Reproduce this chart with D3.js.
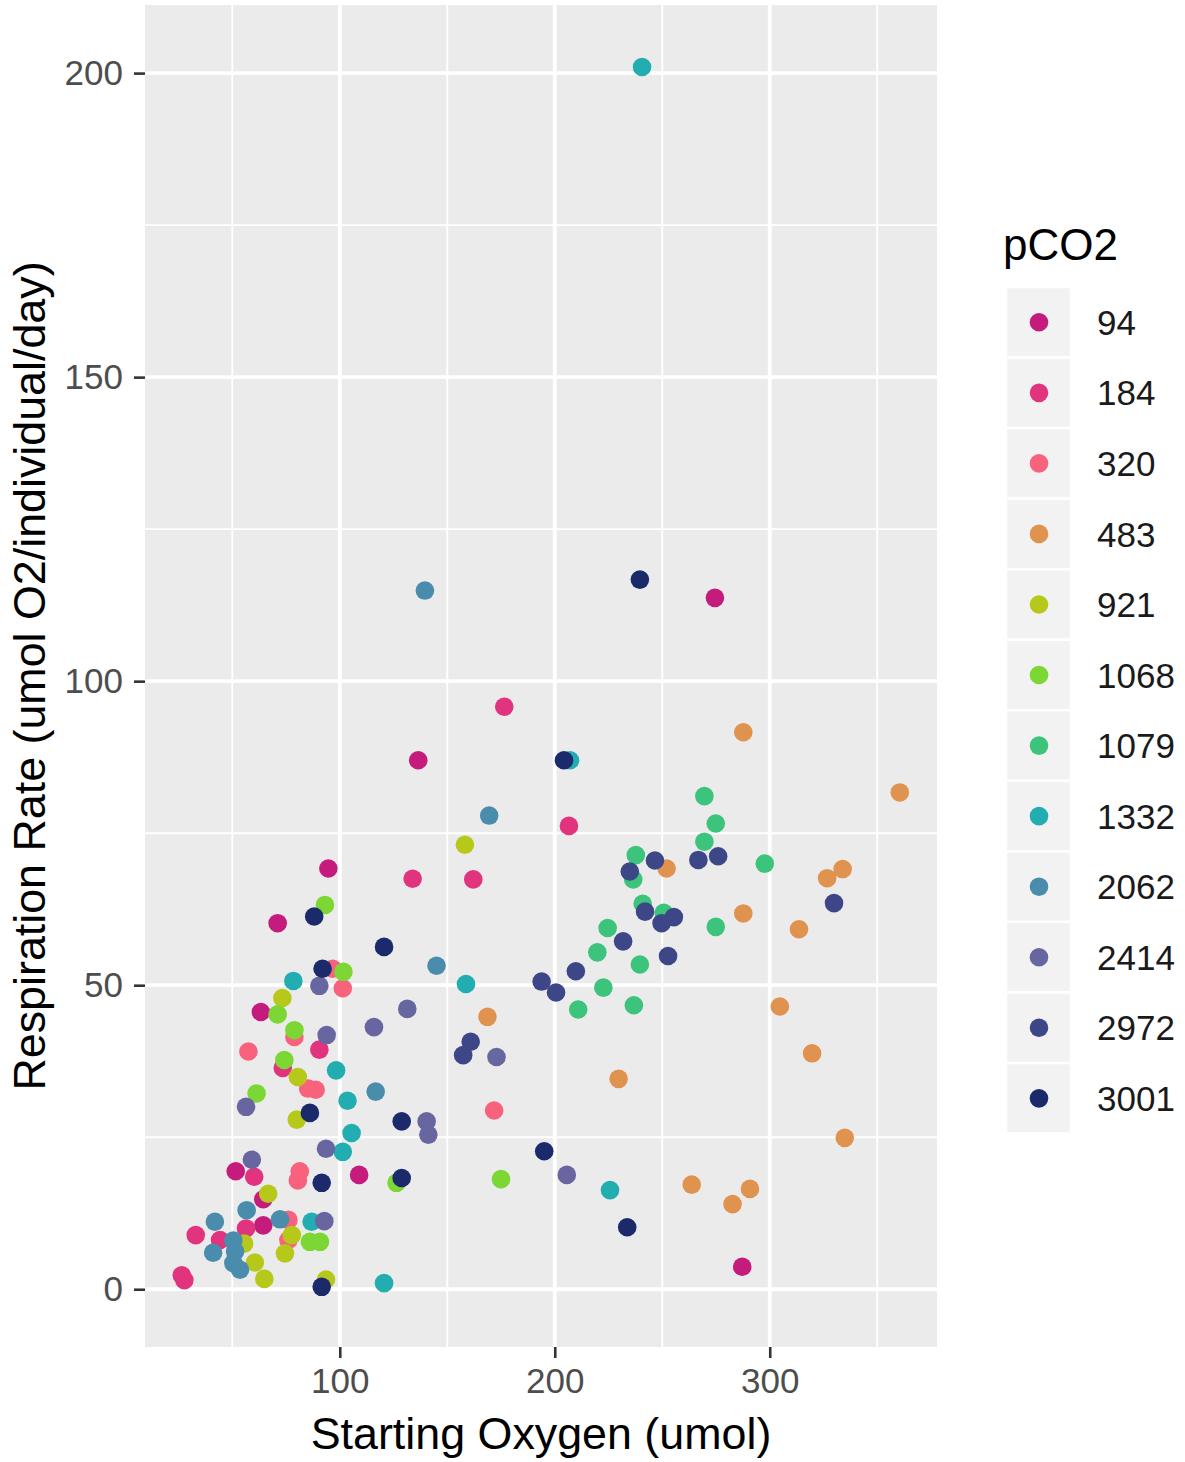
<!DOCTYPE html>
<html>
<head>
<meta charset="utf-8">
<script src="https://cdn.jsdelivr.net/npm/d3@7"></script>
<style>
  html, body { margin: 0; padding: 0; background: #ffffff; }
  svg text { font-family: "Liberation Sans", Arial, Helvetica, sans-serif; }
</style>
</head>
<body>
<svg id="chart" width="1185" height="1462"></svg>
<script>
// pCO2 treatment levels and their colours
const levels = ["94", "184", "320", "483", "921", "1068", "1079", "1332", "2062", "2414", "2972", "3001"];
const palette = ["#c51b7d", "#e2337f", "#f8627d", "#e0934e", "#b6c91b", "#7cd634", "#3cc37c",
                 "#22adb0", "#4a8cab", "#6866a0", "#3d4788", "#1a2a6b"];

// [starting oxygen (umol), respiration rate (umol O2/individual/day)] per treatment
const pts94 = [[51.6, 19.4], [109.0, 18.8], [94.7, 69.2], [71.1, 60.2], [136.5, 87.0], [63.3, 45.6],
               [274.5, 113.7], [287.2, 3.7], [64.4, 14.8], [64.4, 10.5]];
const pts184 = [[60.2, 18.5], [56.4, 10.0], [33.0, 8.9], [44.3, 8.1], [26.5, 2.3], [27.7, 1.5],
                [73.5, 36.4], [90.5, 39.4], [176.5, 95.8], [206.6, 76.2], [133.9, 67.5], [162.1, 67.4]];
const pts320 = [[81.4, 19.4], [80.5, 17.9], [76.1, 11.4], [76.1, 8.1], [96.7, 52.7], [101.4, 49.5],
                [78.9, 41.5], [57.5, 39.1], [85.3, 33.0], [88.8, 32.8], [171.8, 29.4]];
const pts483 = [[168.7, 44.8], [229.7, 34.6], [252.0, 69.2], [287.7, 61.8], [304.7, 46.5], [319.7, 38.8],
                [334.9, 24.9], [263.7, 17.2], [290.8, 16.5], [282.7, 14.0], [287.7, 91.6], [360.5, 81.7],
                [333.9, 69.1], [326.7, 67.6], [313.6, 59.2]];
const pts921 = [[66.7, 15.7], [55.5, 7.5], [77.7, 8.9], [74.5, 5.9], [60.5, 4.4], [64.9, 1.7],
                [93.6, 1.6], [73.3, 47.9], [80.5, 34.9], [80.0, 27.9], [158.2, 73.1]];
const pts1068 = [[126.4, 17.5], [86.1, 7.8], [90.8, 7.8], [101.7, 52.2], [71.1, 45.2], [78.9, 42.6],
                 [74.2, 37.7], [61.3, 32.2], [93.1, 63.2], [175.0, 18.1]];
const pts1079 = [[269.6, 81.1], [274.9, 76.6], [269.6, 73.6], [237.7, 71.4], [236.5, 67.4], [297.7, 70.0],
                 [240.9, 63.4], [250.7, 61.9], [274.9, 59.6], [224.6, 59.4], [219.8, 55.4], [239.6, 53.4],
                 [222.6, 49.6], [210.9, 46.0], [236.8, 46.7]];
const pts1332 = [[105.5, 25.7], [101.4, 22.6], [86.9, 11.1], [120.6, 1.0], [78.4, 50.7], [98.3, 36.0],
                 [103.6, 31.0], [158.7, 50.2], [207.1, 87.0], [225.7, 16.3], [240.6, 201.0]];
const pts2062 = [[56.7, 13.0], [41.9, 11.1], [72.2, 11.5], [50.5, 8.0], [41.1, 6.0], [51.3, 6.2],
                 [50.5, 4.3], [53.6, 3.2], [116.7, 32.5], [145.0, 53.2], [169.5, 77.9], [139.6, 114.9]];
const pts2414 = [[93.6, 23.1], [59.1, 21.3], [92.8, 11.2], [90.5, 49.9], [93.9, 41.8], [115.9, 43.1],
                 [131.4, 46.1], [56.4, 30.0], [172.9, 38.2], [140.4, 27.6], [141.2, 25.4], [205.6, 18.8]];
const pts2972 = [[246.6, 70.5], [234.9, 68.7], [266.8, 70.6], [276.0, 71.2], [242.0, 62.1], [249.7, 60.2],
                 [255.4, 61.2], [231.8, 57.2], [252.7, 54.8], [209.8, 52.3], [193.9, 50.6], [200.6, 48.8],
                 [160.9, 40.7], [157.4, 38.5], [329.9, 63.5]];
const pts3001 = [[92.0, 52.7], [120.6, 56.3], [88.1, 61.3], [86.1, 29.0], [91.6, 17.5], [128.8, 18.3],
                 [128.8, 27.6], [91.6, 0.4], [195.1, 22.7], [233.7, 10.2], [204.3, 87.0], [239.6, 116.7]];

const xTicks = [100, 200, 300];
const yTicks = [0, 50, 100, 150, 200];
const xMinor = [50, 150, 250, 350];
const yMinor = [25, 75, 125, 175];

const seriesPoints = [pts94, pts184, pts320, pts483, pts921, pts1068, pts1079,
                      pts1332, pts2062, pts2414, pts2972, pts3001];
const rows = [];
seriesPoints.forEach((pts, i) => pts.forEach(p => rows.push({ level: levels[i], x: p[0], y: p[1] })));

// panel geometry
const panel = { left: 145, right: 937, top: 5, bottom: 1347 };

const x = d3.scaleLinear().domain([9.4, 377.8]).range([panel.left, panel.right]);
const y = d3.scaleLinear().domain([-9.5, 211.2]).range([panel.bottom, panel.top]);
const color = d3.scaleOrdinal().domain(levels).range(palette);

const svg = d3.select("#chart");

// panel background
svg.append("rect")
  .attr("x", panel.left).attr("y", panel.top)
  .attr("width", panel.right - panel.left).attr("height", panel.bottom - panel.top)
  .attr("fill", "#ebebeb");

const grid = svg.append("g");
// minor grid lines
grid.selectAll("line.xminor").data(xMinor).join("line")
  .attr("x1", d => x(d)).attr("x2", d => x(d))
  .attr("y1", panel.top).attr("y2", panel.bottom)
  .attr("stroke", "#ffffff").attr("stroke-width", 1.9);
grid.selectAll("line.yminor").data(yMinor).join("line")
  .attr("y1", d => y(d)).attr("y2", d => y(d))
  .attr("x1", panel.left).attr("x2", panel.right)
  .attr("stroke", "#ffffff").attr("stroke-width", 1.9);
// major grid lines
grid.selectAll("line.xmajor").data(xTicks).join("line")
  .attr("x1", d => x(d)).attr("x2", d => x(d))
  .attr("y1", panel.top).attr("y2", panel.bottom)
  .attr("stroke", "#ffffff").attr("stroke-width", 3.8);
grid.selectAll("line.ymajor").data(yTicks).join("line")
  .attr("y1", d => y(d)).attr("y2", d => y(d))
  .attr("x1", panel.left).attr("x2", panel.right)
  .attr("stroke", "#ffffff").attr("stroke-width", 3.8);

// points
svg.append("g").selectAll("circle").data(rows).join("circle")
  .attr("cx", d => x(d.x)).attr("cy", d => y(d.y))
  .attr("r", 9.3)
  .attr("fill", d => color(d.level));

// axes
const xAxis = svg.append("g")
  .attr("transform", `translate(0,${panel.bottom})`)
  .call(d3.axisBottom(x).tickValues(xTicks).tickSize(11).tickPadding(8));
const yAxis = svg.append("g")
  .attr("transform", `translate(${panel.left},0)`)
  .call(d3.axisLeft(y).tickValues(yTicks).tickSize(11).tickPadding(11));
[xAxis, yAxis].forEach(ax => {
  ax.select(".domain").remove();
  ax.selectAll(".tick line").attr("stroke", "#333333").attr("stroke-width", 2.6);
  ax.selectAll(".tick text").attr("fill", "#4d4d4d").attr("font-size", 35)
    .attr("font-family", "'Liberation Sans', Arial, sans-serif");
});
xAxis.selectAll(".tick text").attr("dy", "0.78em");

// axis titles
svg.append("text")
  .attr("x", (panel.left + panel.right) / 2).attr("y", 1449)
  .attr("text-anchor", "middle").attr("font-size", 44.8).attr("fill", "#000000")
  .text("Starting Oxygen (umol)");
svg.append("text")
  .attr("transform", `translate(45,${(panel.top + panel.bottom) / 2}) rotate(-90)`)
  .attr("text-anchor", "middle").attr("font-size", 44.8).attr("fill", "#000000")
  .text("Respiration Rate (umol O2/individual/day)");

// legend
const legend = svg.append("g");
legend.append("text")
  .attr("x", 1003).attr("y", 260)
  .attr("font-size", 44).attr("fill", "#000000")
  .text("pCO2");
const keyStep = 70.55, keyTop = 287;
const keys = legend.selectAll("g.key").data(levels).join("g")
  .attr("transform", (d, i) => `translate(0,${keyTop + i * keyStep})`);
keys.append("rect")
  .attr("x", 1006).attr("y", 0).attr("width", 65).attr("height", keyStep)
  .attr("fill", "#f2f2f2").attr("stroke", "#ffffff").attr("stroke-width", 2.5);
keys.append("circle")
  .attr("cx", 1039).attr("cy", keyStep / 2).attr("r", 9.3)
  .attr("fill", d => color(d));
keys.append("text")
  .attr("x", 1097).attr("y", keyStep / 2).attr("dy", "0.36em")
  .attr("font-size", 35).attr("fill", "#1a1a1a")
  .text(d => d);
</script>
</body>
</html>
